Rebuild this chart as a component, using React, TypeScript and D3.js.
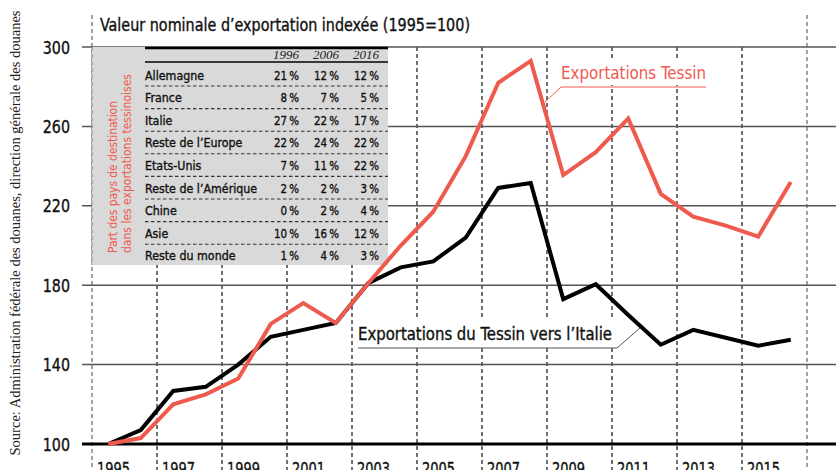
import React from "react";
import * as d3 from "d3";

const years = [1995,1996,1997,1998,1999,2000,2001,2002,2003,2004,2005,2006,2007,2008,2009,2010,2011,2012,2013,2014,2015,2016];
const tessin = [100,103,120,125,133,160.5,171,161,181,200,217,245,282,293,235.5,247,264,226,214.5,210,204.5,232];
const italie = [100,107,126.7,128.8,140,154,157.5,161,181,189,192,204,229,231.5,173,180.5,165,150,157.5,153.5,149.5,152.5];
const yTicks = [100,140,180,220,260,300];
const xTickYears = [1995,1997,1999,2001,2003,2005,2007,2009,2011,2013,2015];
const tableHeaders = ["1996","2006","2016"];
const tableRows = ["Allemagne","France","Italie","Reste de l\u2019Europe","Etats-Unis","Reste de l\u2019Am\u00e9rique","Chine","Asie","Reste du monde"];
const share1996 = [21,8,27,22,7,2,0,10,1];
const share2006 = [12,7,22,24,11,2,2,16,4];
const share2016 = [12,5,17,22,22,3,4,12,3];

const SANS = "'Liberation Sans Narrow', 'DejaVu Sans Condensed', Roboto, 'DejaVu Sans', sans-serif";
const SERIF = "'Liberation Serif', 'DejaVu Serif', serif";
const RED = "#ef5a4e";

type TP = { x: number; y: number; sx?: number; anchor?: string; size: number; fill?: string; children: React.ReactNode; family?: string; italic?: boolean; heavy?: boolean };
function T({ x, y, sx = 1, anchor = "start", size, fill = "#111", children, family = SANS, italic = false, heavy = true }: TP) {
  return (
    <text transform={`translate(${x},${y}) scale(${sx},1)`} textAnchor={anchor} fontFamily={family}
      fontSize={size} fill={fill} fontStyle={italic ? "italic" : "normal"}
      stroke={heavy ? fill : "none"} strokeWidth={heavy ? 0.35 : 0}>
      {children}
    </text>
  );
}

export default function App() {
  const W = 836, H = 470;
  const x = d3.scaleLinear().domain([1995, 2017]).range([92, 807]);
  const y = d3.scaleLinear().domain([100, 300]).range([444, 47]);
  const line = d3.line<number>().x((_, i) => x(years[i] + 0.5)).y((d) => y(d));

  const boxX0 = 92, boxX1 = 388, boxY0 = y(300), boxY1 = 265;
  const colX = [299, 339, 379];
  const rowY0 = 75, rowStep = 22.6;

  return (
    <svg width={W} height={H} style={{ position: "fixed", left: 0, top: 0, background: "#fff" }}>
      <rect x={0} y={0} width={W} height={H} fill="#fff" />
      {/* source */}
      <text transform={`translate(20,${233}) rotate(-90)`} textAnchor="middle" fontFamily={SERIF} fontSize={14.5} fill="#222">
        Source: Administration fédérale des douanes, direction générale des douanes
      </text>
      {/* title */}
      <text x={100} y={31} fontFamily={SANS} fontSize={17} fill="#111" stroke="#111" strokeWidth={0.35} textLength={370} lengthAdjust="spacingAndGlyphs">
        Valeur nominale d’exportation indexée (1995=100)
      </text>
      {/* vertical dashed lines */}
      {xTickYears.concat([2017]).map((yr) => {
        const edge = yr === 1995 || yr === 2017;
        return (
          <line key={yr} x1={x(yr)} x2={x(yr)} y1={edge ? 15 : y(300)} y2={H}
            stroke={edge ? "#666" : "#111"} strokeWidth={1.2} strokeDasharray="4,3" />
        );
      })}
      {/* horizontal grid */}
      {yTicks.map((t) => (
        <g key={t}>
          <line x1={82} x2={W} y1={y(t)} y2={y(t)} stroke={t === 100 ? "#000" : "#555"} strokeWidth={t === 100 ? 3 : 1.5} />
          <T x={70} y={y(t) + 6.5} anchor="end" size={18} sx={0.88}>{t}</T>
        </g>
      ))}
      {/* x labels */}
      {xTickYears.map((yr) => (
        <T key={yr} x={x(yr) + 5} y={475} size={17} sx={0.85}>{yr}</T>
      ))}
      {/* table box */}
      <rect x={boxX0} y={boxY0} width={boxX1 - boxX0} height={boxY1 - boxY0} fill="#d9d9d9" />
      <line x1={boxX0} x2={boxX0} y1={boxY0} y2={boxY1} stroke="#888" strokeWidth={1.2} strokeDasharray="4,3" />
      <line x1={145} x2={boxX1} y1={boxY0 + 1} y2={boxY0 + 1} stroke="#000" strokeWidth={2.5} />
      <line x1={145} x2={boxX1} y1={62} y2={62} stroke="#000" strokeWidth={1.3} />
      {tableHeaders.map((h, i) => (
        <T key={h} x={colX[i]} y={59} anchor="end" family={SERIF} italic size={13} fill="#222" heavy={false}>{h}</T>
      ))}
      {tableRows.map((r, i) => {
        const cy = rowY0 + i * rowStep;
        const vals = [share1996[i], share2006[i], share2016[i]];
        return (
          <g key={r}>
            <T x={145} y={cy + 4.5} size={13} sx={0.95}>{r}</T>
            {vals.map((v, j) => (
              <T key={j} x={colX[j]} y={cy + 4.5} anchor="end" size={13} sx={0.88}>{`${v}\u2009%`}</T>
            ))}
            {i < tableRows.length - 1 && (
              <line x1={145} x2={boxX1} y1={cy + 11} y2={cy + 11} stroke="#333" strokeWidth={1.1} strokeDasharray="3.5,2.5" />
            )}
          </g>
        );
      })}
      <text transform={`translate(117,253) rotate(-90)`} fontFamily={SANS} fontSize={12} fill={RED} textLength={152} lengthAdjust="spacing">
        Part des pays de destination
      </text>
      <text transform={`translate(131,253) rotate(-90)`} fontFamily={SANS} fontSize={12} fill={RED} textLength={179} lengthAdjust="spacing">
        dans les exportations tessinoises
      </text>
      {/* label backgrounds */}
      <rect x={357} y={318} width={258} height={28} fill="#fff" />
      <rect x={560} y={60} width={148} height={25} fill="#fff" />
      {/* series */}
      <path d={line(italie) || ""} fill="none" stroke="#000" strokeWidth={4} strokeLinejoin="miter" />
      <path d={line(tessin) || ""} fill="none" stroke={RED} strokeWidth={4} strokeLinejoin="miter" />
      {/* labels */}
      <text x={561} y={78.5} fontFamily={SANS} fontSize={18} fill={RED} textLength={145} lengthAdjust="spacingAndGlyphs">Exportations Tessin</text>
      <polyline points="706,87 561,87 545,102" fill="none" stroke={RED} strokeWidth={1} />
      <text x={358} y={340} fontFamily={SANS} fontSize={18} fill="#111" stroke="#111" strokeWidth={0.35} textLength={254} lengthAdjust="spacingAndGlyphs">Exportations du Tessin vers l’Italie</text>
      <polyline points="358,348 617,348 640,328" fill="none" stroke="#555" strokeWidth={1} />
    </svg>
  );
}
